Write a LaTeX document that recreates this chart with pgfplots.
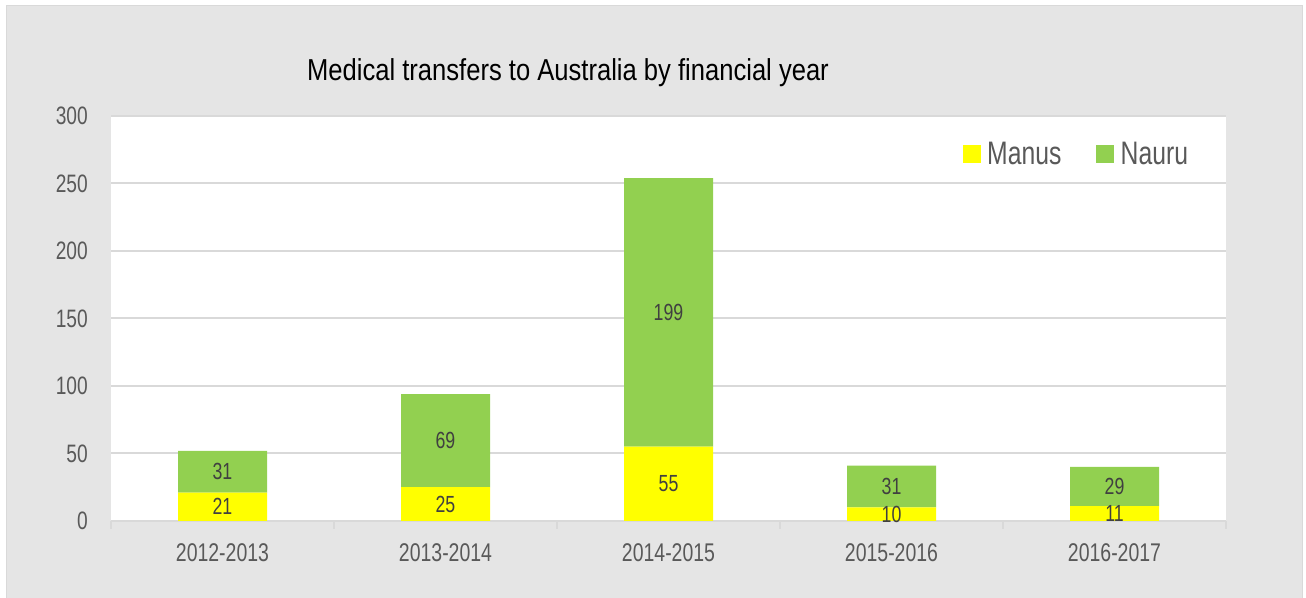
\documentclass[border=0pt]{standalone}
\usepackage{pgfplots}
\pgfplotsset{compat=1.18}
\usepackage{pgfplotstable}
\usepackage{fontspec}
\setmainfont[FakeStretch=0.76]{Liberation Sans}
\newfontfamily\titlefont[FakeStretch=0.845]{Liberation Sans}
\definecolor{bg}{HTML}{E5E5E5}
\definecolor{gridc}{HTML}{D9D9D9}
\definecolor{txt}{HTML}{595959}
\definecolor{lab}{HTML}{404040}
\definecolor{manus}{HTML}{FFFF00}
\definecolor{nauru}{HTML}{92D050}
\pgfplotstableread{
x m
0 21
1 25
2 55
3 10
4 11
}\manus
\pgfplotstableread{
x m
0 31
1 69
2 199
3 31
4 29
}\nauru
\begin{document}
\begin{tikzpicture}
\begin{scope}[x=0.75pt,y=0.75pt]
\useasboundingbox (0,0) rectangle (1306,598);
\fill[white] (0,0) rectangle (1306,598);
\fill[bg, draw=gridc, line width=0.75pt] (6,-4) rectangle (1302,592);
\node[font=\titlefont\fontsize{22.7}{26}\selectfont, text=black, inner sep=0pt] at (568,525) {Medical transfers to Australia by financial year};
\end{scope}
\begin{axis}[
  at={(83.25pt,57.75pt)}, anchor=south west,
  width=836.25pt, height=303.75pt, scale only axis,
  axis background/.style={fill=white},
  ybar stacked, bar width=66.75pt,
  xmin=-0.5, xmax=4.5, ymin=0, ymax=300,
  enlargelimits=false,
  axis line style={draw=none},
  ytick={0,50,...,300},
  ymajorgrids, grid style={gridc, line width=1.5pt},
  xtick={0,...,4},
  xticklabels={2012-2013,2013-2014,2014-2015,2015-2016,2016-2017},
  minor xtick={-0.5,0.5,...,4.5},
  xtick pos=bottom,
  tick align=outside,
  major tick length=0pt,
  minor tick length=6pt,
  minor x tick style={gridc, line width=1.5pt},
  ytick style={draw=none},
  /pgf/number format/assume math mode=true,
  yticklabel style={font=\fontsize{18.9}{20}\selectfont, text=txt, anchor=east, inner sep=0pt, xshift=-17.25pt},
  xticklabel style={font=\fontsize{19.2}{21}\selectfont, text=txt, anchor=base, inner sep=0pt, yshift=-30.75pt},
  point meta=explicit,
  nodes near coords,
  every node near coord/.append style={font=\fontsize{17.5}{19}\selectfont, text=lab, anchor=center},
  legend style={at={(0.971,0.946)}, anchor=north east, draw=none, fill=none,
    font=\fontsize{24.4}{26}\selectfont, text=txt, legend columns=-1,
    nodes={inner sep=1pt},
    /tikz/every odd column/.append style={column sep=4pt},
    /tikz/every even column/.append style={column sep=25pt}},
  legend image code/.code={\fill[#1] (0pt,-6.75pt) rectangle (13.5pt,6.75pt);},
]
\addplot[fill=manus, draw=none] table[x=x, y=m, meta=m] {\manus};
\addplot[fill=nauru, draw=none] table[x=x, y=m, meta=m] {\nauru};
\legend{Manus, Nauru}
\end{axis}
\end{tikzpicture}
\end{document}
